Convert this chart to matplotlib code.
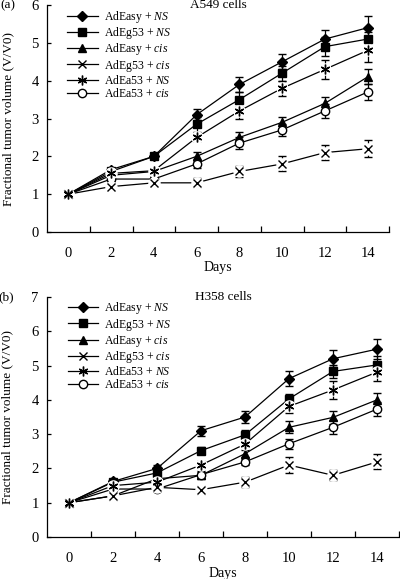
"""Fractional tumor volume over time, A549 and H358 xenografts.

Two stacked panels, six treatment groups each, error bars with caps.
Serif font, black markers, categorical-style x axis (ticks between days).
"""

import matplotlib
matplotlib.use("Agg")
import matplotlib.pyplot as plt
from matplotlib.lines import Line2D
import numpy as np

plt.rcParams["font.family"] = ["Liberation Serif", "DejaVu Serif"]
plt.rcParams["mathtext.fontset"] = "custom"
plt.rcParams["mathtext.rm"] = "Liberation Serif"
plt.rcParams["mathtext.it"] = "Liberation Serif:italic"

days = [0, 2, 4, 6, 8, 10, 12, 14]

labels = [
    r"AdEasy + $\mathit{NS}$",
    r"AdEg53 + $\mathit{NS}$",
    r"AdEasy + $\mathit{cis}$",
    r"AdEg53 + $\mathit{cis}$",
    r"AdEa53 + $\mathit{NS}$",
    r"AdEa53 + $\mathit{cis}$",
]

# A549 cells (panel a)
a549_easy_ns = [1.0, 1.65, 2.0, 3.1, 3.9, 4.5, 5.1, 5.4]
a549_eg53_ns = [1.0, 1.6, 2.0, 2.85, 3.5, 4.2, 4.9, 5.1]
a549_easy_cis = [1.0, 1.5, 1.6, 2.0, 2.5, 2.9, 3.4, 4.1]
a549_eg53_cis = [1.0, 1.2, 1.3, 1.3, 1.6, 1.8, 2.1, 2.2]
a549_ea53_ns = [1.0, 1.55, 1.62, 2.5, 3.2, 3.8, 4.3, 4.8]
a549_ea53_cis = [1.0, 1.4, 1.4, 1.8, 2.35, 2.7, 3.2, 3.7]

a549_easy_ns_err = [0.05, 0.05, 0.06, 0.15, 0.2, 0.2, 0.25, 0.3]
a549_eg53_ns_err = [0.05, 0.05, 0.06, 0.2, 0.2, 0.2, 0.25, 0.2]
a549_easy_cis_err = [0.05, 0.05, 0.05, 0.12, 0.15, 0.15, 0.18, 0.2]
a549_eg53_cis_err = [0.05, 0.05, 0.05, 0.12, 0.15, 0.2, 0.2, 0.22]
a549_ea53_ns_err = [0.05, 0.05, 0.06, 0.1, 0.2, 0.2, 0.25, 0.3]
a549_ea53_cis_err = [0.08, 0.05, 0.06, 0.1, 0.15, 0.15, 0.18, 0.2]

# H358 cells (panel b)
h358_easy_ns = [1.0, 1.62, 2.0, 3.1, 3.5, 4.62, 5.2, 5.48]
h358_eg53_ns = [1.0, 1.6, 1.87, 2.52, 2.98, 4.03, 4.83, 5.02]
h358_easy_cis = [1.0, 1.2, 1.7, 1.8, 2.43, 3.2, 3.49, 4.0]
h358_eg53_cis = [1.0, 1.2, 1.45, 1.38, 1.6, 2.1, 1.8, 2.19]
h358_ea53_ns = [1.0, 1.5, 1.6, 2.1, 2.71, 3.81, 4.29, 4.81]
h358_ea53_cis = [1.0, 1.4, 1.4, 1.82, 2.19, 2.72, 3.2, 3.73]

h358_easy_ns_err = [0.05, 0.05, 0.1, 0.15, 0.18, 0.22, 0.25, 0.3]
h358_eg53_ns_err = [0.05, 0.05, 0.08, 0.1, 0.15, 0.15, 0.2, 0.25]
h358_easy_cis_err = [0.05, 0.08, 0.08, 0.1, 0.1, 0.18, 0.2, 0.2]
h358_eg53_cis_err = [0.05, 0.08, 0.08, 0.12, 0.15, 0.22, 0.15, 0.22]
h358_ea53_ns_err = [0.05, 0.05, 0.08, 0.12, 0.12, 0.2, 0.25, 0.25]
h358_ea53_cis_err = [0.06, 0.1, 0.06, 0.1, 0.1, 0.15, 0.2, 0.2]

# marker, size, face colour, white gap around marker
STYLES = [
    ("D", 4.8, "black", False),
    ("s", 5.5, "black", False),
    ("^", 6, "black", False),
    ("x", 6, "black", True),
    ((6, 2, 0), 7, "black", True),
    ("o", 6, "white", False),
]


def draw_panel(ax, series, errors, ymax, title, tag, xlabel_y, legend_y):
    handles = []
    for (marker, ms, face, gap), vals, err, label in zip(STYLES, series, errors, labels):
        ax.errorbar(
            days, vals, yerr=err, color="black", marker=marker, ms=ms,
            mfc=face, mec="black", mew=1.0, lw=0.9, elinewidth=0.9,
            capsize=3.2, capthick=0.9, zorder=2,
        )
        if gap:
            ax.plot(days, vals, "o", color="white", ms=8, zorder=2.5)
            ax.plot(days, vals, linestyle="none", marker=marker, ms=ms,
                    color="black", mew=1.0, zorder=3)
        handles.append(Line2D([], [], color="black", lw=0.9, marker=marker, ms=ms,
                              mfc=face, mec="black", mew=1.0, label=label))

    ax.set_xlim(-1, 15)
    ax.set_ylim(0, ymax)
    ax.set_xticks(days)
    ax.set_xticklabels([str(d) for d in days])
    ax.set_xticks(np.array(days) + 1, minor=True)
    ax.tick_params(axis="x", which="major", length=0, pad=11, labelsize=10.5)
    ax.tick_params(axis="x", which="minor", direction="in", length=4, width=0.9)
    ax.set_yticks(range(0, ymax + 1))
    ax.tick_params(axis="y", direction="in", length=3, width=0.9, pad=6, labelsize=10.5)

    ax.spines["top"].set_visible(False)
    ax.spines["right"].set_visible(False)
    ax.spines["left"].set_linewidth(0.9)
    ax.spines["bottom"].set_linewidth(0.9)

    ax.set_ylabel("Fractional tumor volume (V/V0)", fontsize=9.5)
    ax.yaxis.set_label_coords(-0.096, 0.5)
    ax.set_xlabel("Days", fontsize=10)
    ax.xaxis.set_label_coords(0.5, xlabel_y)

    ax.text(0.5, 1.0, title, transform=ax.transAxes, ha="center", va="center", fontsize=9.5)
    ax.text(-0.137, 1.0, tag, transform=ax.transAxes, ha="left", va="center", fontsize=9.5)

    ax.legend(
        handles=handles, loc="upper left", bbox_to_anchor=(0.045, legend_y),
        frameon=False, fontsize=8.5, handlelength=2.6, handletextpad=0.5,
        labelspacing=0.02, borderaxespad=0,
    )


fig = plt.figure(figsize=(4.0, 5.79), dpi=100, facecolor="white")
ax_a = fig.add_axes([0.1175, 0.5993, 0.855, 0.392])
ax_b = fig.add_axes([0.1175, 0.0725, 0.88, 0.4145])

draw_panel(
    ax_a,
    [a549_easy_ns, a549_eg53_ns, a549_easy_cis, a549_eg53_cis, a549_ea53_ns, a549_ea53_cis],
    [a549_easy_ns_err, a549_eg53_ns_err, a549_easy_cis_err, a549_eg53_cis_err,
     a549_ea53_ns_err, a549_ea53_cis_err],
    6, "A549 cells", "(a)", -0.128, 1.004,
)
draw_panel(
    ax_b,
    [h358_easy_ns, h358_eg53_ns, h358_easy_cis, h358_eg53_cis, h358_ea53_ns, h358_ea53_cis],
    [h358_easy_ns_err, h358_eg53_ns_err, h358_easy_cis_err, h358_eg53_cis_err,
     h358_ea53_ns_err, h358_ea53_cis_err],
    7, "H358 cells", "(b)", -0.125, 1.006,
)

fig.savefig("out.png", dpi=100, facecolor="white")
